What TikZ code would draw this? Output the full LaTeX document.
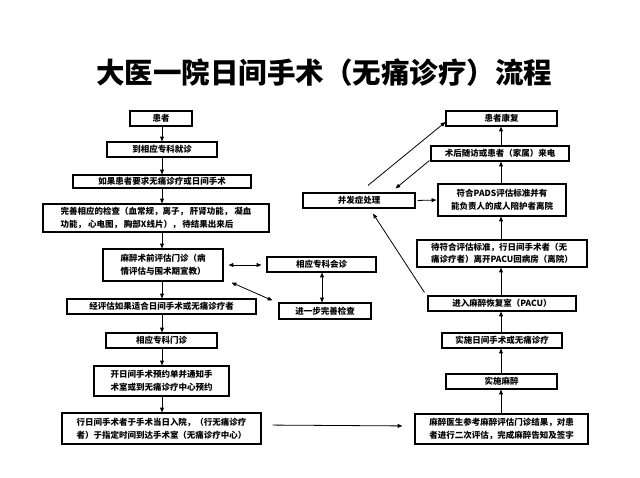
\documentclass[tikz,border=0pt]{standalone}
\usepackage{fontspec}
\setmainfont{Noto Sans CJK SC}
\usetikzlibrary{arrows.meta,calc}
\begin{document}
\begin{tikzpicture}[x=1pt,y=-1pt,
  box/.style={draw, line width=1.1pt, inner sep=0pt, align=left,
    font=\fontsize{8.5}{12.5}\selectfont\bfseries},
  arr/.style={-{Triangle[length=4.8pt,width=3.8pt]}, line width=0.8pt},
  darr/.style={{Triangle[length=4.8pt,width=3.8pt]}-{Triangle[length=4.8pt,width=3.8pt]}, line width=0.8pt}]
\useasboundingbox[fill=white] (0,0) rectangle (640,477);

\node[font=\fontsize{28.5}{30}\selectfont\bfseries] (title) at (324,72.5) {大医一院日间手术（无痛诊疗）流程};

% left column
\node[box, minimum width=62, minimum height=15] (hz) at (161,118.5) {患者};
\node[box, minimum width=110, minimum height=15] (dx) at (162,149.5) {到相应专科就诊};
\node[box, minimum width=178, minimum height=13] (rg) at (162,181.5) {如果患者要求无痛诊疗或日间手术};
\node[box, minimum width=226, minimum height=28] (ws) at (156,218) {完善相应的检查（血常规，离子， 肝肾功能， 凝血\\功能， 心电图， 胸部X线片）， 待结果出来后};
\node[box, minimum width=120, minimum height=32] (mq) at (163,265) {麻醉术前评估门诊（病\\情评估与围术期宣教）};
\node[box, minimum width=189, minimum height=15] (jp) at (161.5,306.5) {经评估如果适合日间手术或无痛诊疗者};
\node[box, minimum width=111, minimum height=15] (mz) at (161.5,340.5) {相应专科门诊};
\node[box, minimum width=135, minimum height=30] (ky) at (161.5,381) {开日间手术预约单并通知手\\术室或到无痛诊疗中心预约};
\node[box, minimum width=199, minimum height=31] (xr) at (161.5,428.5) {行日间手术者于手术当日入院，（行无痛诊疗\\者）于指定时间到达手术室（无痛诊疗中心）};

% middle
\node[box, minimum width=109, minimum height=15] (hzh) at (321.5,264.5) {相应专科会诊};
\node[box, minimum width=92, minimum height=16] (jb) at (325,311) {进一步完善检查};

% right column
\node[box, minimum width=111, minimum height=15] (kf) at (501.5,118.5) {患者康复};
\node[box, minimum width=138, minimum height=15] (sh) at (500,153.5) {术后随访或患者（家属）来电};
\node[box, minimum width=112, minimum height=15] (bf) at (359,200.5) {并发症处理};
\node[box, minimum width=128, minimum height=32, align=center] (fh) at (502,200) {符合PADS评估标准并有\\能负责人的成人陪护者离院};
\node[box, minimum width=170, minimum height=27] (dfh) at (502,253.5) {待符合评估标准，行日间手术者（无\\痛诊疗者）离开PACU回病房（离院）};
\node[box, minimum width=148, minimum height=15] (jr) at (502,303.5) {进入麻醉恢复室（PACU）};
\node[box, minimum width=120, minimum height=15] (ss) at (502,340.5) {实施日间手术或无痛诊疗};
\node[box, minimum width=111, minimum height=15] (sm) at (501.5,381.5) {实施麻醉};
\node[box, minimum width=173, minimum height=30] (ys) at (501.5,429) {麻醉医生参考麻醉评估门诊结果，对患\\者进行二次评估，完成麻醉告知及签字};

\coordinate (L) at (162,0);
\coordinate (R) at (501,0);

% left column arrows
\draw[arr] (hz.south -| L) -- (dx.north -| L);
\draw[arr] (dx.south -| L) -- (rg.north -| L);
\draw[arr] (rg.south -| L) -- (ws.north -| L);
\draw[arr] (ws.south -| L) -- (mq.north -| L);
\draw[arr] (mq.south -| L) -- (jp.north -| L);
\draw[arr] (jp.south -| L) -- (mz.north -| L);
\draw[arr] (mz.south -| L) -- (ky.north -| L);
\draw[arr] (ky.south -| L) -- (xr.north -| L);

% middle arrows
\draw[darr, shorten <=5pt, shorten >=5pt] (mq.east) -- (mq.east -| hzh.west);
\draw[darr] ([shift={(8,1)}]mq.south east) -- ([shift={(-6,-2)}]jb.north west);
\draw[darr] (hzh.south -| 322,0) -- (jb.north -| 322,0);
\draw[arr, shorten <=11pt, shorten >=12pt] ([yshift=3.5]xr.east) -- ([yshift=3]ys.west);

% right column arrows
\draw[arr] (ys.north -| R) -- (sm.south -| R);
\draw[arr] (sm.north -| R) -- (ss.south -| R);
\draw[arr] (ss.north -| R) -- (jr.south -| R);
\draw[arr] (jr.north -| R) -- (dfh.south -| R);
\draw[arr] (dfh.north -| R) -- (fh.south -| R);
\draw[arr] (fh.north -| R) -- (sh.south -| R);
\draw[arr] (sh.north -| R) -- (kf.south -| R);

\draw[arr, shorten <=2pt, shorten >=1pt] (bf.east) -- (fh.west);
\draw[arr] ([shift={(9,-7)}]bf.north) -- ([shift={(0,3.5)}]kf.west);
\draw[arr] ([shift={(-1,-1)}]sh.south west) -- ([shift={(-20,-4)}]bf.north east);
\draw[arr] ([shift={(-3,-3)}]jr.north west) -- ([shift={(14,5)}]bf.south);
\end{tikzpicture}
\end{document}
